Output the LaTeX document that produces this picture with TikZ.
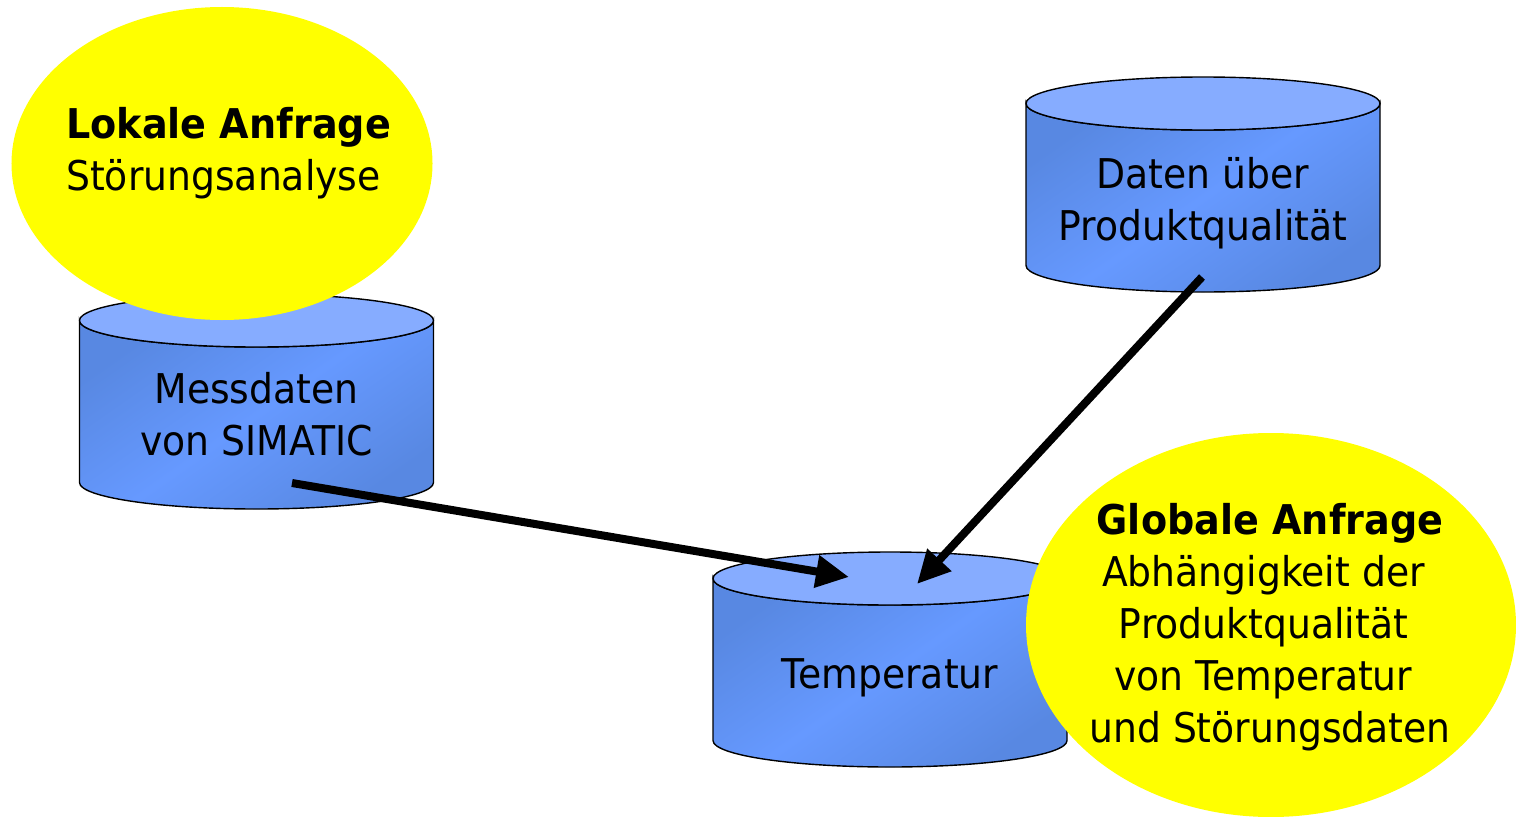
\documentclass[tikz,border=0pt]{standalone}
\usepackage{fontspec}
\setmainfont{DejaVu Sans}[FakeStretch=0.92]
\newfontfamily\headfont{DejaVu Sans}[FakeStretch=0.93]
\usetikzlibrary{arrows.meta,shapes.geometric}

\definecolor{dbdark}{RGB}{88,136,226}
\definecolor{dbmid}{RGB}{102,153,255}
\definecolor{dbcap}{RGB}{134,172,255}
\definecolor{queryyellow}{RGB}{255,255,0}

\tikzset{
  dbbody/.style={draw=black, line width=1.4bp, top color=dbdark, bottom color=dbdark,
                 middle color=dbmid, shading angle=35},
  dbtop/.style={draw=black, line width=1.4bp, fill=dbcap},
  bubble/.style={ellipse, fill=queryyellow, draw=none, inner sep=0pt},
  txt/.style={font={\fontsize{41bp}{52bp}\selectfont}, inner sep=0pt, text=black},
  flow/.style={line width=8bp, -{Triangle[length=33bp,width=31bp]}}
}

% database cylinder: #1 centre x, #2 y of the top ellipse centre, #3 name
\newcommand{\dbcylinder}[3]{%
  \path[dbbody] (#1-177,#2) -- ++(0,162)
     arc[start angle=180,end angle=0,x radius=177,y radius=26.5]
     -- ++(0,-162)
     arc[start angle=0,end angle=180,x radius=177,y radius=26.5] -- cycle;
  \path[dbtop] (#1,#2) ellipse[x radius=177,y radius=26.5];
  \coordinate (#3) at (#1,#2);
}
% trailing gap kept at a line end
\newcommand{\trail}{\kern0.32em}

\begin{document}
\begin{tikzpicture}[x=1bp,y=-1bp]
\useasboundingbox (0,0) rectangle (1516,816);
\clip (0,0) rectangle (1516,816);

% databases
\dbcylinder{256.5}{320.5}{mess}
\dbcylinder{1203}{103.5}{qual}
\dbcylinder{890}{578.5}{temp}

% multi-line labels are anchored at the baseline of their last line
\node[txt, anchor=base, align=center] (messtxt) at (256.5,455) {Messdaten\\von SIMATIC};
\node[txt, anchor=base, align=center] (qualtxt) at (1203,240) {Daten über\\Produktqualität};
\node[txt, anchor=base] (temptxt) at (890,688) {Temperatur};

% data flows into the temperature store
\coordinate (messout) at (292,483);
\coordinate (tempin1) at (849,577);
\coordinate (qualout) at (1202,277);
\coordinate (tempin2) at (917,584);
\draw[flow] (messout) -- (tempin1);
\draw[flow] (qualout) -- (tempin2);

% queries
\node[bubble, minimum width=421bp, minimum height=313bp] (lokal) at (222,163.5) {};
\node[txt, anchor=base west, align=left] (lokaltxt) at (66,190)
  {{\headfont\bfseries Lokale Anfrage}\\Störungsanalyse};

\node[bubble, minimum width=490bp, minimum height=384bp] (global) at (1271,625) {};
\node[txt, anchor=base, align=center] (globaltxt) at (1270,742)
  {{\headfont\bfseries Globale Anfrage}\\Abhängigkeit der\trail\\Produktqualität\trail\\von Temperatur\trail\\und Störungsdaten};
\end{tikzpicture}
\end{document}
